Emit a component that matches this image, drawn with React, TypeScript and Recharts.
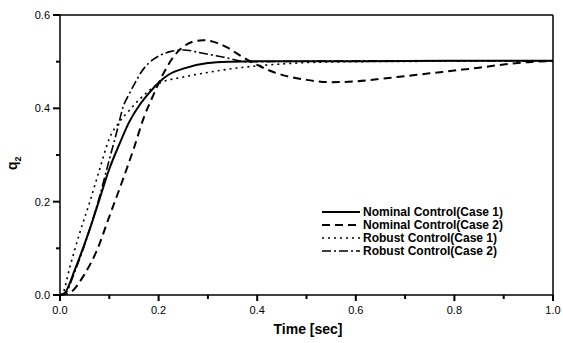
import { LineChart, Line, XAxis, YAxis, ReferenceLine } from 'recharts';

// time [sec] / q2, one pair of arrays per curve
const nominal1Time = [0, 0.01, 0.03, 0.06, 0.08, 0.1, 0.12, 0.14, 0.16, 0.18, 0.2, 0.22, 0.25, 0.3, 0.35, 0.4, 0.6, 0.8, 1.0];
const nominal1Q2 = [0, 0.005, 0.054, 0.14, 0.205, 0.27, 0.322, 0.37, 0.405, 0.432, 0.455, 0.472, 0.485, 0.497, 0.5, 0.501, 0.501, 0.502, 0.502];

const nominal2Time = [0, 0.02, 0.05, 0.075, 0.1, 0.125, 0.15, 0.17, 0.19, 0.21, 0.23, 0.25, 0.27, 0.29, 0.31, 0.34, 0.37, 0.4, 0.43, 0.46, 0.5, 0.55, 0.6, 0.65, 0.7, 0.75, 0.8, 0.85, 0.9, 0.95, 1.0];
const nominal2Q2 = [0, 0.005, 0.045, 0.096, 0.168, 0.24, 0.315, 0.38, 0.43, 0.475, 0.51, 0.532, 0.543, 0.546, 0.543, 0.53, 0.51, 0.493, 0.479, 0.469, 0.461, 0.456, 0.458, 0.463, 0.469, 0.475, 0.481, 0.487, 0.494, 0.499, 0.501];

const robust1Time = [0, 0.005, 0.02, 0.04, 0.06, 0.08, 0.1, 0.12, 0.14, 0.16, 0.18, 0.2, 0.25, 0.3, 0.35, 0.4, 0.45, 0.5, 0.6, 0.8, 1.0];
const robust1Q2 = [0, 0.003, 0.06, 0.133, 0.198, 0.268, 0.335, 0.37, 0.395, 0.418, 0.437, 0.453, 0.467, 0.477, 0.485, 0.491, 0.495, 0.498, 0.5, 0.501, 0.502];

const robust2Time = [0, 0.01, 0.03, 0.06, 0.08, 0.1, 0.116, 0.128, 0.14, 0.152, 0.165, 0.18, 0.2, 0.225, 0.25, 0.29, 0.33, 0.38, 0.5, 0.8, 1.0];
const robust2Q2 = [0, 0.003, 0.05, 0.14, 0.21, 0.29, 0.353, 0.403, 0.43, 0.454, 0.478, 0.497, 0.512, 0.522, 0.525, 0.518, 0.51, 0.5, 0.501, 0.502, 0.502];

const xTicks = [0, 0.1, 0.2, 0.3, 0.4, 0.5, 0.6, 0.7, 0.8, 0.9, 1.0];
const yTicks = [0, 0.1, 0.2, 0.3, 0.4, 0.5, 0.6];

const seriesNames = [
  'Nominal Control(Case 1)',
  'Nominal Control(Case 2)',
  'Robust Control(Case 1)',
  'Robust Control(Case 2)',
];
const dashes = [undefined, '8 5', '2 4', '9 3 2 3'];
const widths = [2, 2, 1.6, 1.6];

const toPoints = (t: number[], q: number[]) => t.map((v, i) => ({ t: v, q: q[i] }));
const series = [
  toPoints(nominal1Time, nominal1Q2),
  toPoints(nominal2Time, nominal2Q2),
  toPoints(robust1Time, robust1Q2),
  toPoints(robust2Time, robust2Q2),
];

const font = 'Arial, "Liberation Sans", sans-serif';

const isMajor = (v: number) => Math.round(v * 10) % 2 === 0;

// tick marks drawn by hand so minor ticks can be shorter and unlabeled
function YTick({ x, y, payload }: any) {
  const major = isMajor(payload.value);
  const len = major ? 7 : 4;
  return (
    <g>
      <rect x={x - len} y={y - 1} width={len} height={2} fill="#000" />
      {major && (
        <text x={x - 10} y={y} dy={4} textAnchor="end" fontSize={11} fontFamily={font} fill="#000">
          {payload.value.toFixed(1)}
        </text>
      )}
    </g>
  );
}

function XTick({ x, y, payload }: any) {
  const major = isMajor(payload.value);
  const len = major ? 6 : 4;
  return (
    <g>
      <rect x={x - 1} y={y} width={2} height={len} fill="#000" />
      {major && (
        <text x={x} y={y + 19} textAnchor="middle" fontSize={11} fontFamily={font} fill="#000">
          {payload.value.toFixed(1)}
        </text>
      )}
    </g>
  );
}

function LegendBox() {
  return (
    <svg width={220} height={60} style={{ position: 'absolute', left: 322, top: 205 }}>
      {seriesNames.map((name, i) => (
        <g key={name} transform={`translate(0, ${7 + i * 13})`}>
          <path d="M0,0 H38" stroke="#000" strokeWidth={widths[i]} strokeDasharray={dashes[i]} />
          <text x={41} y={4} fontSize={12} fontWeight="bold" fontFamily={font} fill="#000">
            {name}
          </text>
        </g>
      ))}
    </svg>
  );
}

export default function App() {
  return (
    <div style={{ width: 563, height: 343, background: '#fff', position: 'relative' }}>
      <style>{'body{margin:0}'}</style>
      <LineChart width={563} height={343} margin={{ top: 15, right: 10, bottom: 0, left: 0 }}>
        <XAxis
          dataKey="t"
          type="number"
          domain={[0, 1]}
          ticks={xTicks}
          tick={<XTick />}
          tickLine={false}
          tickSize={0}
          tickMargin={0}
          height={48}
          axisLine={{ stroke: '#000', strokeWidth: 1.5 }}
          allowDuplicatedCategory={false}
          label={{
            content: () => (
              <text x={308} y={334} textAnchor="middle" fontSize={14} fontWeight="bold" fontFamily={font} fill="#000">
                Time [sec]
              </text>
            ),
          }}
        />
        <YAxis
          dataKey="q"
          type="number"
          domain={[0, 0.6]}
          ticks={yTicks}
          tick={<YTick />}
          tickLine={false}
          tickSize={0}
          tickMargin={0}
          width={60}
          axisLine={{ stroke: '#000', strokeWidth: 1.5 }}
          label={{
            content: () => (
              <text transform="translate(17,170) rotate(-90)" fontSize={14} fontWeight="bold" fontFamily={font} fill="#000">
                q<tspan dy={4} fontSize={9}>2</tspan>
              </text>
            ),
          }}
        />
        <ReferenceLine y={0.6} stroke="#000" strokeWidth={1.5} />
        <ReferenceLine x={1} stroke="#000" strokeWidth={1.5} />
        {series.map((pts, i) => (
          <Line
            key={seriesNames[i]}
            data={pts}
            dataKey="q"
            name={seriesNames[i]}
            type="monotone"
            stroke="#000"
            strokeWidth={widths[i]}
            strokeDasharray={dashes[i]}
            dot={false}
            isAnimationActive={false}
          />
        ))}
      </LineChart>
      <LegendBox />
    </div>
  );
}
